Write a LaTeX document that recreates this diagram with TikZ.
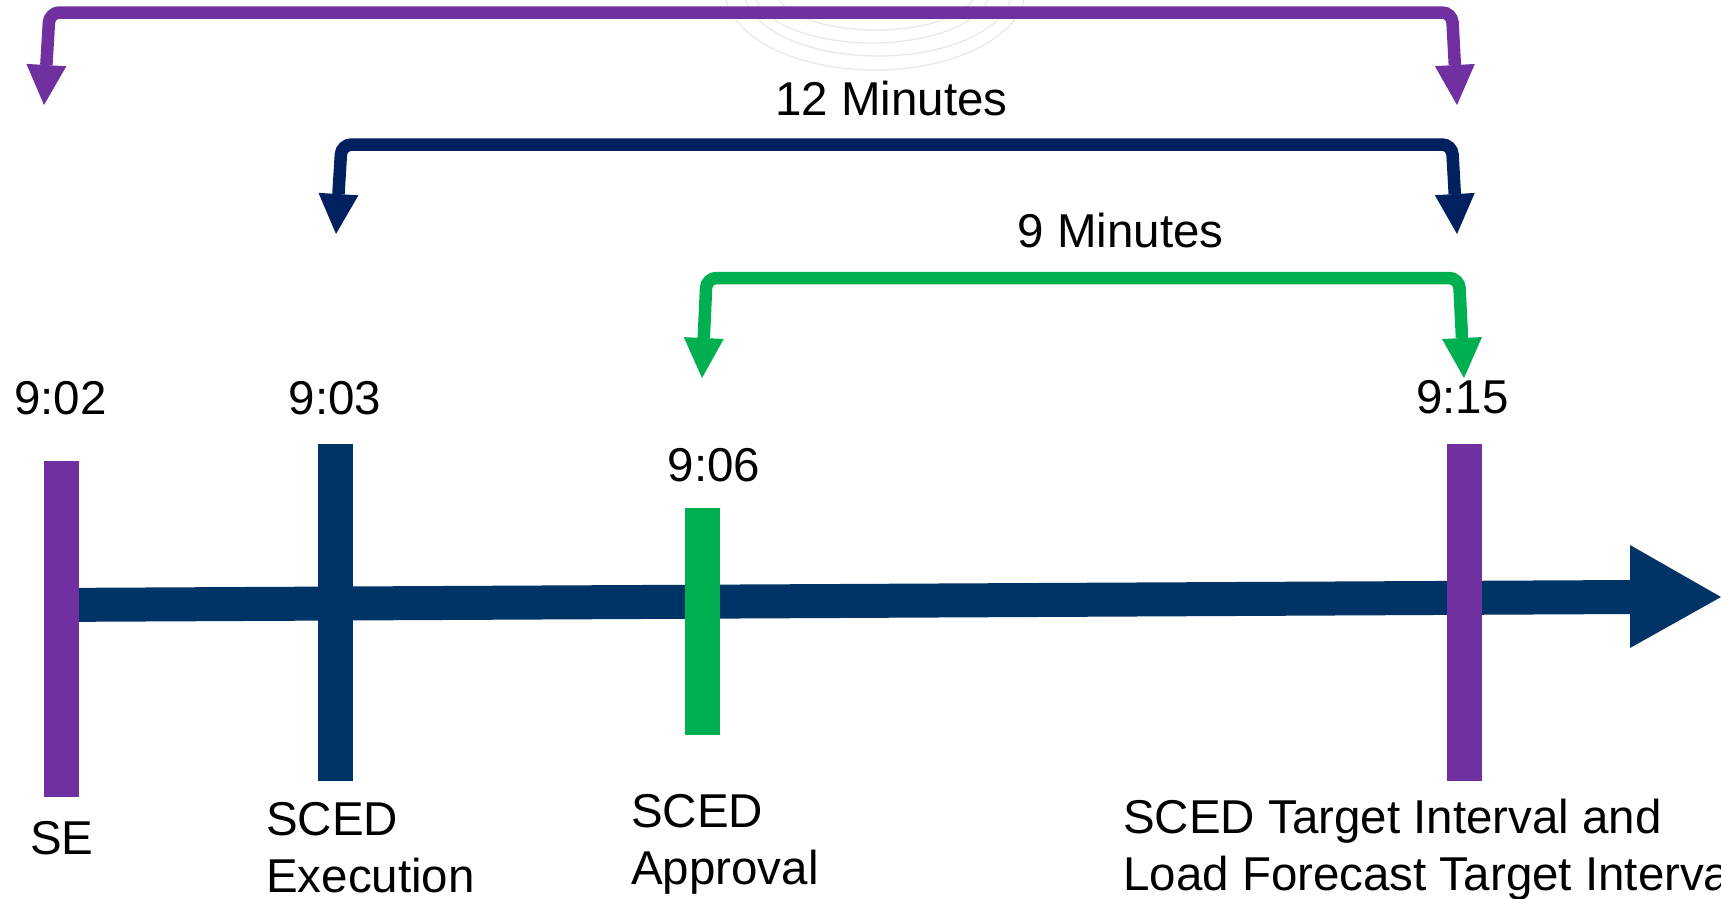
\documentclass[tikz,border=0pt]{standalone}
\usepackage{fontspec}
\setmainfont{Liberation Sans}
\usetikzlibrary{arrows.meta}
\definecolor{purp}{HTML}{7030A0}
\definecolor{navyb}{HTML}{002060}
\definecolor{navyt}{HTML}{003366}
\definecolor{grn}{HTML}{00B050}
\begin{document}
\begin{tikzpicture}[x=1pt,y=-1pt,
  lbl/.style={inner sep=0pt, font=\fontsize{47.5}{57}\selectfont},
  brk/.style={line width=12.5pt, rounded corners=10pt, arrows={Triangle[length=40pt,width=40pt,line width=0pt]-Triangle[length=40pt,width=40pt,line width=0pt]}},
  wm/.style={draw=gray!18, line width=1.3pt}
]
\useasboundingbox (0,0) rectangle (1721,898);
\clip (0,0) rectangle (1721,898);

% faint watermark
\draw[wm] (875,-10) ellipse [x radius=150, y radius=80];
\draw[wm] (878,-10) ellipse [x radius=134, y radius=66];
\draw[wm] (872,-10) ellipse [x radius=118, y radius=53];
\draw[wm] (876,-10) ellipse [x radius=100, y radius=40];

% timeline
\fill[navyt] (44,588) -- (1630,580) -- (1630,545) -- (1721,597) -- (1630,648) -- (1630,614) -- (44,622) -- cycle;

% ticks
\fill[purp] (44,461) rectangle (79,797);
\fill[navyt] (318,444) rectangle (353,781);
\fill[grn] (685,508) rectangle (720,735);
\fill[purp] (1447,444) rectangle (1482,781);

% time labels
\node[lbl, anchor=base] (t902) at (60.5,414) {9:02};
\node[lbl, anchor=base] (t903) at (335,414) {9:03};
\node[lbl, anchor=base] (t906) at (714,481) {9:06};
\node[lbl, anchor=base] (t915) at (1462.5,413) {9:15};
\node[lbl, anchor=base] (m12) at (891.5,115) {12 Minutes};
\node[lbl, anchor=base] (m9) at (1120.5,247) {9 Minutes};

% event labels
\node[lbl, anchor=north west, align=left] (se) at (30,821.5) {SE};
\node[lbl, anchor=north west, align=left] (exe) at (266,802.5) {SCED\\Execution};
\node[lbl, anchor=north west, align=left] (app) at (631,794.5) {SCED\\Approval};
\node[lbl, anchor=north west, align=left] (tgt) at (1123,798.5) {SCED Target Interval and\\Load Forecast Target Interval};

% brackets
\coordinate (pL) at (44,105); \coordinate (pLc) at (49.5,12.5);
\coordinate (pRc) at (1452,12.5); \coordinate (pR) at (1457,105);
\draw[brk, draw=purp] (pL) -- (pLc) -- (pRc) -- (pR);

\coordinate (nL) at (336,234); \coordinate (nLc) at (341.5,144.5);
\coordinate (nRc) at (1452,144.5); \coordinate (nR) at (1457,234);
\draw[brk, draw=navyb] (nL) -- (nLc) -- (nRc) -- (nR);

\coordinate (gL) at (702,378); \coordinate (gLc) at (706.5,278);
\coordinate (gRc) at (1459,278); \coordinate (gR) at (1464,378);
\draw[brk, draw=grn] (gL) -- (gLc) -- (gRc) -- (gR);
\end{tikzpicture}
\end{document}
